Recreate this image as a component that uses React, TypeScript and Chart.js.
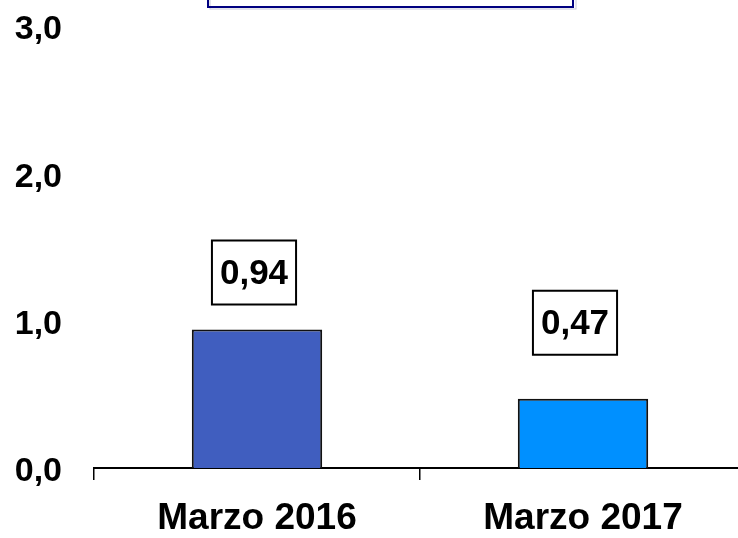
import React, { useEffect, useRef } from "react";
import { Chart, registerables } from "chart.js";

Chart.register(...registerables);

const categories = ["Marzo 2016", "Marzo 2017"];
const values = [0.94, 0.47];
const yTickValues = [0, 1, 2, 3];
const barColors = ["#405EBF", "#0090FF"];
const labelLift = [57, 76];
const labelShift = [-3, -8];

const FONT = "'Liberation Sans', Arial, Helvetica, sans-serif";
const fmt = (v: number, d: number) => v.toFixed(d).replace(".", ",");

const boxedLabels = {
  id: "boxedLabels",
  afterDatasetsDraw(chart: any) {
    const ctx = chart.ctx;
    const meta = chart.getDatasetMeta(0);
    ctx.save();
    ctx.font = `bold 35px ${FONT}`;
    ctx.textAlign = "center";
    ctx.textBaseline = "middle";
    meta.data.forEach((el: any, i: number) => {
      const { x, y } = el.getProps(["x", "y"], true);
      const text = fmt(values[i], 2);
      const tw = ctx.measureText(text).width;
      const w = tw + 16;
      const h = 64;
      const cx = x + labelShift[i];
      const cy = y - labelLift[i];
      ctx.fillStyle = "#ffffff";
      ctx.fillRect(cx - w / 2, cy - h / 2, w, h);
      ctx.lineWidth = 2;
      ctx.strokeStyle = "#000000";
      ctx.strokeRect(cx - w / 2, cy - h / 2, w, h);
      ctx.fillStyle = "#000000";
      ctx.fillText(text, cx, cy + 2);
    });
    ctx.restore();
  },
};

const topBox = {
  id: "topBox",
  afterDraw(chart: any) {
    const ctx = chart.ctx;
    ctx.save();
    ctx.strokeStyle = "#c8c8d8";
    ctx.lineWidth = 1;
    ctx.strokeRect(210, -12, 366, 21);
    ctx.strokeStyle = "#000080";
    ctx.lineWidth = 2;
    ctx.strokeRect(208, -12, 365, 19);
    ctx.restore();
  },
};

export default function App() {
  const ref = useRef<HTMLCanvasElement>(null);
  useEffect(() => {
    if (!ref.current) return;
    const chart = new Chart(ref.current, {
      type: "bar",
      data: {
        labels: categories,
        datasets: [
          {
            data: values,
            backgroundColor: barColors,
            borderColor: "#111111",
            borderWidth: 2,
            barPercentage: 0.4,
            categoryPercentage: 1,
          },
        ],
      },
      options: {
        responsive: false,
        animation: false,
        layout: { padding: { top: 26, left: 0, right: 0, bottom: 0 } },
        plugins: {
          legend: { display: false },
          tooltip: { enabled: false },
          title: { display: false },
        },
        scales: {
          x: {
            offset: true,
            border: { display: true, color: "#000000", width: 2 },
            grid: {
              display: true,
              drawOnChartArea: false,
              drawTicks: true,
              tickLength: 12,
              color: "#000000",
              lineWidth: 1.5,
              offset: true,
            },
            ticks: {
              color: "#000000",
              padding: 17,
              font: { family: FONT, size: 37, weight: "bold" },
            },
            afterFit(scale: any) {
              scale.height = 70;
              scale.paddingLeft = 0;
              scale.paddingRight = 0;
            },
          },
          y: {
            min: 0,
            max: 3,
            border: { display: false },
            grid: { display: false, drawTicks: false },
            ticks: {
              color: "#000000",
              padding: 32,
              stepSize: 1,
              labelOffset: 4,
              font: { family: FONT, size: 34, weight: "bold" },
              callback: (v: any) => fmt(Number(v), 1),
            },
            afterBuildTicks(scale: any) {
              scale.ticks = yTickValues.map((v) => ({ value: v }));
            },
            afterFit(scale: any) {
              scale.width = 94;
              scale.paddingTop = 0;
              scale.paddingBottom = 0;
            },
          },
        },
      },
      plugins: [boxedLabels, topBox],
    });
    return () => chart.destroy();
  }, []);
  return (
    <div
      style={{
        position: "absolute",
        left: 0,
        top: 0,
        width: 738,
        height: 538,
        overflow: "hidden",
        background: "#ffffff",
      }}
    >
      <canvas ref={ref} width={746} height={538} style={{ display: "block" }} />
    </div>
  );
}
